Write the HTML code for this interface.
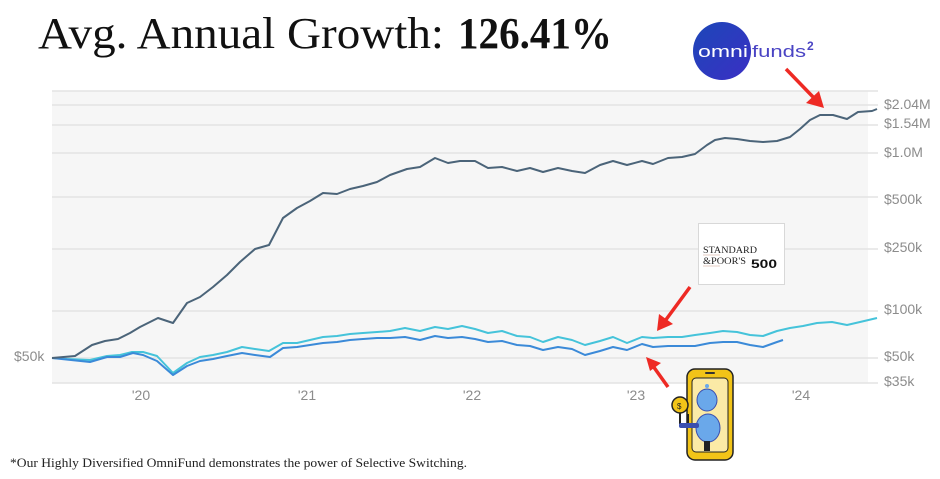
<!DOCTYPE html>
<html><head><meta charset="utf-8"><style>
html,body{margin:0;padding:0;background:#fff;}
svg{display:block;}
</style></head><body>
<svg width="940" height="479" viewBox="0 0 940 479" xmlns="http://www.w3.org/2000/svg">
<defs>
<linearGradient id="lg" x1="0" y1="0" x2="1" y2="1">
<stop offset="0" stop-color="#1c47b8"/><stop offset="1" stop-color="#3b2fc4"/>
</linearGradient>
</defs>
<rect width="940" height="479" fill="#fff"/>
<!-- title -->
<text x="38" y="48" font-family="Liberation Serif, serif" font-size="44" fill="#111" textLength="406" lengthAdjust="spacingAndGlyphs">Avg. Annual Growth:</text>
<text x="458" y="48" font-family="Liberation Serif, serif" font-size="44" font-weight="bold" fill="#111" textLength="154" lengthAdjust="spacingAndGlyphs">126.41%</text>

<!-- plot background -->
<rect x="52" y="91" width="816" height="292" fill="#f6f6f6"/>
<g stroke="#e4e4e4" stroke-width="1.5">
<line x1="52" y1="91" x2="878" y2="91"/>
<line x1="52" y1="105" x2="878" y2="105"/>
<line x1="52" y1="125" x2="878" y2="125"/>
<line x1="52" y1="153" x2="878" y2="153"/>
<line x1="52" y1="197" x2="878" y2="197"/>
<line x1="52" y1="249" x2="878" y2="249"/>
<line x1="52" y1="311" x2="878" y2="311"/>
<line x1="52" y1="358" x2="878" y2="358"/>
<line x1="52" y1="383" x2="878" y2="383"/>
</g>
<g font-family="Liberation Sans, sans-serif" font-size="14" fill="#8c8c8c">
<text x="884" y="109">$2.04M</text>
<text x="884" y="128">$1.54M</text>
<text x="884" y="157">$1.0M</text>
<text x="884" y="204">$500k</text>
<text x="884" y="252">$250k</text>
<text x="884" y="314">$100k</text>
<text x="884" y="361">$50k</text>
<text x="884" y="386">$35k</text>
<text x="14" y="361">$50k</text>
<text x="141" y="400" text-anchor="middle">'20</text>
<text x="307" y="400" text-anchor="middle">'21</text>
<text x="472" y="400" text-anchor="middle">'22</text>
<text x="636" y="400" text-anchor="middle">'23</text>
<text x="801" y="400" text-anchor="middle">'24</text>
</g>

<!-- cyan series -->
<polyline fill="none" stroke="#45c3da" stroke-width="2" stroke-linejoin="round" points="52,358 67,359 90,360 107,356 120,355 132,352 143,352 157,356 173,373 187,363 200,357 213,355 227,352 242,347 255,349 269,351 283,343 297,343 310,340 323,337 337,336 350,334 363,333 377,332 390,331 405,328 420,331 435,327 448,329 462,326 475,329 488,333 502,331 517,336 530,337 543,342 558,337 572,340 585,345 600,341 613,337 627,343 642,337 653,338 668,337 682,337 695,335 710,333 723,331 737,332 750,335 763,336 777,331 790,328 803,326 817,323 832,322 847,325 860,322 877,318"/>
<!-- blue series -->
<polyline fill="none" stroke="#3b8ad8" stroke-width="2" stroke-linejoin="round" points="52,358 90,362 107,357 120,357 133,353 143,355 157,361 173,375 187,366 200,361 213,359 227,356 242,353 255,355 270,357 283,348 297,347 310,345 323,343 337,342 350,340 363,339 377,338 390,338 405,337 420,340 435,336 448,338 462,337 475,339 488,342 502,341 517,345 530,346 543,350 558,347 572,349 585,355 600,351 613,347 627,350 642,344 653,347 668,346 682,346 695,346 710,343 723,342 737,342 750,345 763,347 777,342 783,340"/>
<!-- dark series -->
<polyline fill="none" stroke="#4b6479" stroke-width="2" stroke-linejoin="round" points="52,358 75,356 92,345 105,341 118,339 130,333 140,327 150,322 158,318 173,323 187,303 200,297 213,287 227,275 240,262 255,249 269,245 283,218 297,208 310,201 323,193 337,194 350,189 363,186 377,182 390,175 407,169 420,167 435,158 448,163 460,161 475,161 488,168 502,167 517,171 530,168 543,172 558,168 572,171 585,173 600,165 613,161 627,165 642,161 653,164 668,158 682,157 695,154 707,145 715,140 725,138 737,139 750,141 763,142 777,141 790,137 800,129 810,120 820,115 833,115 847,119 858,112 872,111 877,109"/>

<!-- omnifunds logo -->
<circle cx="722" cy="51" r="29" fill="url(#lg)"/>
<text x="698" y="57" font-family="Liberation Sans, sans-serif" font-size="17" fill="#fff" textLength="50" lengthAdjust="spacingAndGlyphs">omni</text>
<text x="752" y="57" font-family="Liberation Sans, sans-serif" font-size="17" fill="#4a44c4" textLength="54" lengthAdjust="spacingAndGlyphs">funds</text>
<text x="807" y="50" font-family="Liberation Sans, sans-serif" font-size="12" font-weight="bold" fill="#4a44c4">2</text>

<!-- S&P box -->
<rect x="698.5" y="223.5" width="86" height="61" fill="#fff" stroke="#d8d8d8" stroke-width="1"/>
<text x="703" y="253" font-family="Liberation Serif, serif" font-size="9" fill="#222" textLength="54" lengthAdjust="spacingAndGlyphs">STANDARD</text>
<text x="703" y="264" font-family="Liberation Serif, serif" font-size="9" fill="#222" textLength="43" lengthAdjust="spacingAndGlyphs">&amp;POOR'S</text>
<text x="751" y="268" font-family="Liberation Sans, sans-serif" font-size="12" font-weight="bold" fill="#111" textLength="26" lengthAdjust="spacingAndGlyphs">500</text>
<line x1="703" y1="255" x2="720" y2="255" stroke="#c98" stroke-width="0.6"/>
<line x1="703" y1="266" x2="720" y2="266" stroke="#c98" stroke-width="0.6"/>

<!-- red arrows -->
<g stroke="#ee2a24" stroke-width="3.5" fill="#ee2a24" stroke-linecap="butt">
<line x1="786" y1="69" x2="815" y2="99"/>
<polygon points="824,108 806,103 819,91" stroke="none"/>
<line x1="690" y1="287" x2="665" y2="321"/>
<polygon points="657,331 659,314 673,324" stroke="none"/>
<line x1="668" y1="387" x2="653" y2="366"/>
<polygon points="646,357 661,363 650,371" stroke="none"/>
</g>

<!-- robot phone -->
<g>
<rect x="687" y="369" width="46" height="91" rx="8" fill="#f2c418" stroke="#222" stroke-width="1.5"/>
<rect x="692" y="378" width="36" height="74" rx="4" fill="#fbeaa6" stroke="#222" stroke-width="1"/>
<rect x="705" y="372" width="10" height="2" rx="1" fill="#333"/>
<ellipse cx="707" cy="400" rx="10" ry="11" fill="#6aa8ea" stroke="#3a4fb0" stroke-width="1"/>
<ellipse cx="708" cy="428" rx="12" ry="14" fill="#6aa8ea" stroke="#3a4fb0" stroke-width="1"/>
<rect x="704" y="441" width="6" height="10" fill="#222"/>
<circle cx="707" cy="386" r="2" fill="#6aa8ea"/>
<line x1="688" y1="414" x2="688" y2="428" stroke="#222" stroke-width="2"/>
<circle cx="680" cy="405" r="8" fill="#f2c418" stroke="#222" stroke-width="1.5"/>
<text x="677" y="409" font-family="Liberation Sans, sans-serif" font-size="8" fill="#222">$</text>
<line x1="680" y1="413" x2="680" y2="424" stroke="#222" stroke-width="2"/>
<rect x="679" y="423" width="20" height="5" rx="2" fill="#3a4fb0"/>
</g>

<!-- footnote -->
<text x="10" y="467" font-family="Liberation Serif, serif" font-size="12.5" fill="#222" textLength="457" lengthAdjust="spacingAndGlyphs">*Our Highly Diversified OmniFund demonstrates the power of Selective Switching.</text>
</svg>
</body></html>
